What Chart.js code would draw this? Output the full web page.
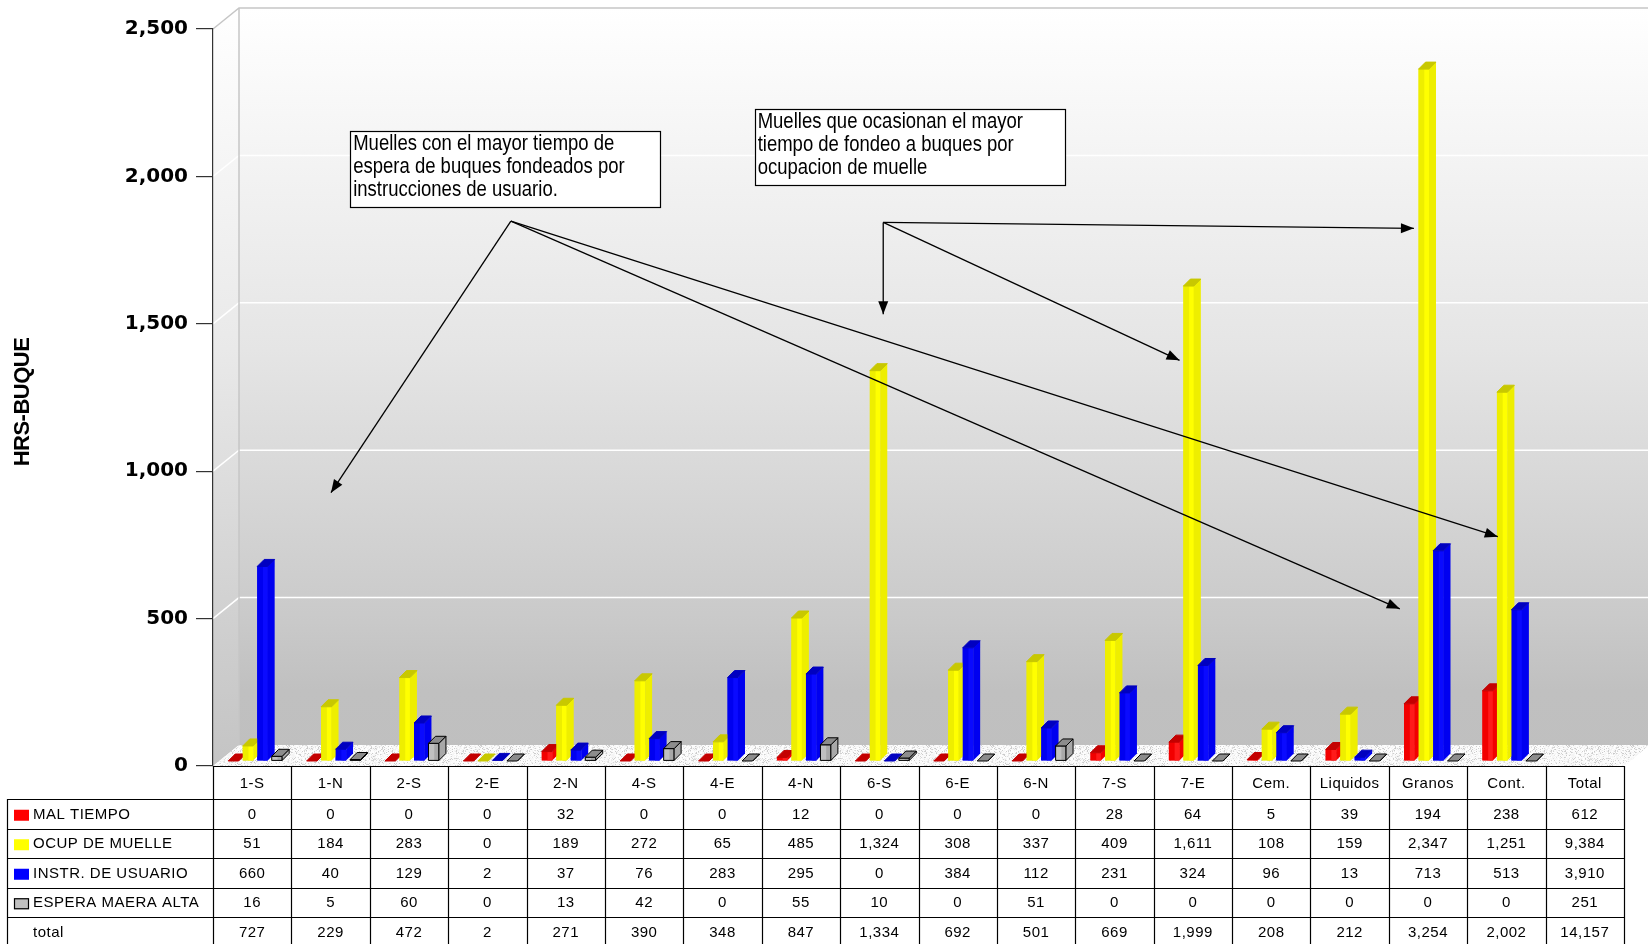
<!DOCTYPE html>
<html><head><meta charset="utf-8">
<script src="https://cdn.jsdelivr.net/npm/chart.js@4.4.1/dist/chart.umd.min.js"></script>
<style>html,body{margin:0;padding:0;background:#fff;}canvas{display:block;}</style>
</head><body>
<canvas id="c" width="1648" height="944"></canvas>
<script>
// ---------- DATA ----------
const categories = ['1-S','1-N','2-S','2-E','2-N','4-S','4-E','4-N','6-S','6-E','6-N','7-S','7-E','Cem.','Liquidos','Granos','Cont.'];
const totalLabel = 'Total';
const malTiempo    = [0,0,0,0,32,0,0,12,0,0,0,28,64,5,39,194,238];
const ocupMuelle   = [51,184,283,0,189,272,65,485,1324,308,337,409,1611,108,159,2347,1251];
const instrUsuario = [660,40,129,2,37,76,283,295,0,384,112,231,324,96,13,713,513];
const esperaMarea  = [16,5,60,0,13,42,0,55,10,0,51,0,0,0,0,0,0];
const categoryTotals = [727,229,472,2,271,390,348,847,1334,692,501,669,1999,208,212,3254,2002];
const seriesTotals = [612,9384,3910,251];
const grandTotal = 14157;
const seriesNames = ['MAL TIEMPO','OCUP DE MUELLE','INSTR. DE USUARIO','ESPERA MAERA ALTA'];
const totalRowName = 'total';
const yTicks = [0,500,1000,1500,2000,2500];
const yTitle = 'HRS-BUQUE';
const note1 = ['Muelles con el mayor tiempo de','espera de buques fondeados por','instrucciones de usuario.'];
const note2 = ['Muelles que ocasionan el mayor','tiempo de fondeo a buques por','ocupacion de muelle'];
// annotation anchors in data space: [category index, value]
const note1Box = [[1.25,2154],[5.20,1895]];
const note2Box = [[6.41,2228],[10.37,1970]];
const arrows1From = [3.30,1848];
const arrows1To = [[1.005,927],[14.64,533],[15.89,778]];
const arrows2From = [8.05,1844];
const arrows2To = [[8.05,1532],[14.82,1824],[11.83,1376]];

// ---------- STYLE ----------
const seriesValues = [malTiempo, ocupMuelle, instrUsuario, esperaMarea];
const frontC = ['#f20000','#eeee00','#0000f0','#c0c0c0'];
const sideC  = ['#ff1a1a','#ffff00','#0a0aff','#a8a8a8'];
const topC   = ['#c40000','#c8c800','#0000c0','#8c8c8c'];
const WDX = 26, WDY = 21;     // wall depth
const BDX = 7, BDY = 7;       // bar depth
const SHX = 3, SHY = -5;      // bar placement inside floor depth
const FONT = '"Liberation Sans", Arial, sans-serif';

function floorPattern(ctx){
  const c = document.createElement('canvas'); c.width = 64; c.height = 32;
  const g = c.getContext('2d'); const img = g.createImageData(64,32);
  for(let y=0;y<32;y++) for(let x=0;x<64;x++){
    let h = (Math.imul(x,374761393) + Math.imul(y,668265263))>>>0;
    h = Math.imul(h ^ (h>>>13), 1274126177)>>>0; h = (h ^ (h>>>16)) & 255;
    const v = h < 55 ? 200 + (h % 40) : 244 + (h % 12);
    const i = (y*64+x)*4; img.data[i]=v; img.data[i+1]=v; img.data[i+2]=v; img.data[i+3]=255;
  }
  g.putImageData(img,0,0);
  return ctx.createPattern(c,'repeat');
}

const backgroundPlugin = {
  id:'bg3d',
  beforeDraw(chart){
    const {ctx, chartArea:a, scales:{y}} = chart;
    const W = chart.width;
    ctx.save();
    ctx.fillStyle = '#fff'; ctx.fillRect(0,0,W,chart.height);
    const grad = ctx.createLinearGradient(0, a.top - WDY, 0, a.bottom);
    grad.addColorStop(0,'#ffffff'); grad.addColorStop(0.45,'#e5e5e5');
    grad.addColorStop(0.8,'#cacaca'); grad.addColorStop(0.9,'#c0c0c0'); grad.addColorStop(1,'#bfbfbf');
    ctx.fillStyle = grad;
    ctx.fillRect(a.left + WDX, a.top - WDY, W - a.left - WDX, a.bottom - a.top);
    const g2 = ctx.createLinearGradient(0, a.top - WDY, 0, a.bottom);
    g2.addColorStop(0,'#ffffff'); g2.addColorStop(0.45,'#e9e9e9');
    g2.addColorStop(0.85,'#cdcdcd'); g2.addColorStop(1,'#c4c4c4');
    ctx.fillStyle = g2;
    ctx.beginPath(); ctx.moveTo(a.left, a.top); ctx.lineTo(a.left+WDX, a.top-WDY);
    ctx.lineTo(a.left+WDX, a.bottom-WDY); ctx.lineTo(a.left, a.bottom); ctx.closePath(); ctx.fill();
    ctx.strokeStyle = '#ffffff'; ctx.lineWidth = 1.5;
    yTicks.forEach(v => {
      if (v === 0 || v === 2500) return;
      const py = y.getPixelForValue(v);
      ctx.beginPath(); ctx.moveTo(a.left, py); ctx.lineTo(a.left+WDX, py-WDY); ctx.lineTo(W, py-WDY); ctx.stroke();
    });
    ctx.strokeStyle = '#c6c6c6'; ctx.lineWidth = 1.5;
    ctx.beginPath(); ctx.moveTo(a.left, a.top); ctx.lineTo(a.left+WDX, a.top-WDY); ctx.lineTo(W, a.top-WDY); ctx.stroke();
    ctx.beginPath(); ctx.moveTo(a.left+WDX, a.top-WDY); ctx.lineTo(a.left+WDX, a.bottom-WDY); ctx.stroke();
    ctx.fillStyle = floorPattern(ctx);
    ctx.beginPath(); ctx.moveTo(a.left, a.bottom); ctx.lineTo(a.left+WDX, a.bottom-WDY);
    ctx.lineTo(a.right+WDX, a.bottom-WDY); ctx.lineTo(a.right, a.bottom); ctx.closePath(); ctx.fill();
    ctx.restore();
  }
};

// Chart.js draws the front faces; here the prisms are re-painted left to right
// (series order) so that each bar's side face is hidden by its right neighbour.
const bar3dPlugin = {
  id:'bar3d',
  beforeDatasetDraw(chart){ chart.ctx.save(); chart.ctx.translate(SHX, SHY); },
  afterDatasetDraw(chart){ chart.ctx.restore(); },
  afterDatasetsDraw(chart){
    const ctx = chart.ctx;
    ctx.save(); ctx.translate(SHX, SHY);
    const metas = seriesValues.map((s, i) => chart.getDatasetMeta(i));
    for (let k = 0; k < categories.length; k++) {
      for (let i = 0; i < metas.length; i++) {
        const el = metas[i].data[k]; const v = seriesValues[i][k];
        if (!el || v === null || v === undefined) continue;
        const L = el.x - el.width/2, R = el.x + el.width/2;
        const T = Math.min(el.y, el.base), B = el.base;
        ctx.lineWidth = 1; ctx.lineJoin = 'round';
        const outline = i === 3;
        // front
        if (B - T > 0.5) {
          ctx.fillStyle = frontC[i]; ctx.fillRect(L, T, R-L, B-T);
          ctx.fillStyle = sideC[i]; ctx.fillRect(L + (R-L)*0.55, T, (R-L)*0.45, B-T);
          if (outline) { ctx.strokeStyle = '#000'; ctx.strokeRect(L, T, R-L, B-T); }
        }
        // side
        ctx.beginPath(); ctx.moveTo(R,T); ctx.lineTo(R+BDX,T-BDY); ctx.lineTo(R+BDX,B-BDY); ctx.lineTo(R,B); ctx.closePath();
        ctx.fillStyle = outline ? sideC[i] : frontC[i]; ctx.fill();
        if (outline) { ctx.strokeStyle = '#000'; ctx.stroke(); }
        // top
        ctx.beginPath(); ctx.moveTo(L,T); ctx.lineTo(L+BDX,T-BDY); ctx.lineTo(R+BDX,T-BDY); ctx.lineTo(R,T); ctx.closePath();
        ctx.fillStyle = topC[i]; ctx.fill();
        ctx.strokeStyle = outline ? '#000' : topC[i]; ctx.stroke();
      }
    }
    ctx.restore();
  }
};

function fmt(n){ return n.toLocaleString('en-US'); }

function arrow(ctx, x0, y0, x1, y1){
  ctx.beginPath(); ctx.moveTo(x0,y0); ctx.lineTo(x1,y1); ctx.stroke();
  const ang = Math.atan2(y1-y0, x1-x0), len = 13, hw = 5;
  ctx.beginPath();
  ctx.moveTo(x1,y1);
  ctx.lineTo(x1 - len*Math.cos(ang) + hw*Math.sin(ang), y1 - len*Math.sin(ang) - hw*Math.cos(ang));
  ctx.lineTo(x1 - len*Math.cos(ang) - hw*Math.sin(ang), y1 - len*Math.sin(ang) + hw*Math.cos(ang));
  ctx.closePath(); ctx.fill();
}

const overlayPlugin = {
  id:'overlay',
  afterDraw(chart){
    const {ctx, chartArea:a, scales:{x, y}} = chart;
    const P = p => [x.getPixelForValue(p[0]), y.getPixelForValue(p[1])];
    ctx.save();
    // y title
    ctx.save();
    ctx.translate(23, 402); ctx.rotate(-Math.PI/2);
    ctx.font = 'bold 22px ' + FONT; ctx.letterSpacing = '-0.5px';
    ctx.fillStyle = '#000'; ctx.textAlign = 'center'; ctx.textBaseline = 'middle';
    ctx.fillText(yTitle, 0, 0);
    ctx.restore();

    // ---- table ----
    const nCols = categories.length + 1;
    const colW = (a.right - a.left) / nCols;
    const top = a.bottom, headB = 799, rowH = 29.5, bottom = chart.height + 2;
    const leftX = 7;
    ctx.strokeStyle = '#000'; ctx.lineWidth = 1.2;
    ctx.beginPath(); ctx.moveTo(a.left, top+0.5); ctx.lineTo(a.right, top+0.5); ctx.stroke();
    for (let r = 0; r < 5; r++) {
      const ly = Math.round(headB + r*rowH) + 0.5;
      ctx.beginPath(); ctx.moveTo(leftX, ly); ctx.lineTo(a.right, ly); ctx.stroke();
    }
    for (let c = 0; c <= nCols; c++) {
      const lx = Math.round(a.left + c*colW) + 0.5;
      ctx.beginPath(); ctx.moveTo(lx, top); ctx.lineTo(lx, bottom); ctx.stroke();
    }
    ctx.beginPath(); ctx.moveTo(leftX+0.5, headB); ctx.lineTo(leftX+0.5, bottom); ctx.stroke();

    ctx.font = '15px ' + FONT; ctx.letterSpacing = '0.5px';
    ctx.fillStyle = '#000'; ctx.textBaseline = 'middle'; ctx.textAlign = 'center';
    const labels = categories.concat([totalLabel]);
    labels.forEach((lab, c) => ctx.fillText(lab, x.getPixelForValue(c), (top + headB)/2 + 1));
    const rows = seriesValues.map((s, i) => s.concat([seriesTotals[i]]));
    rows.push(categoryTotals.concat([grandTotal]));
    const names = seriesNames.concat([totalRowName]);
    const swatch = ['#ff0000','#ffff00','#0000ff','#c0c0c0'];
    rows.forEach((row, r) => {
      const cy = headB + rowH*(r+0.5) + 1;
      ctx.textAlign = 'center'; ctx.fillStyle = '#000';
      row.forEach((v, c) => ctx.fillText(fmt(v), x.getPixelForValue(c), cy));
      ctx.textAlign = 'left';
      ctx.fillText(names[r], 33, cy);
      if (r < 4) {
        ctx.fillStyle = swatch[r];
        ctx.fillRect(14, cy - 5, 15, 11);
        if (r === 3) { ctx.lineWidth = 1.2; ctx.strokeRect(14.5, cy - 4.5, 14, 10); }
      }
    });

    // ---- annotations ----
    ctx.letterSpacing = '0px';
    [[note1Box, note1], [note2Box, note2]].forEach(([box, lines]) => {
      const [x0, y0] = P(box[0]), [x1, y1] = P(box[1]);
      ctx.fillStyle = '#fff'; ctx.fillRect(x0, y0, x1-x0, y1-y0);
      ctx.strokeStyle = '#000'; ctx.lineWidth = 1.2; ctx.strokeRect(Math.round(x0)+0.5, Math.round(y0)+0.5, Math.round(x1-x0), Math.round(y1-y0));
      ctx.fillStyle = '#000'; ctx.font = '18.5px ' + FONT; ctx.textAlign = 'left'; ctx.textBaseline = 'middle';
      lines.forEach((t, i) => {
        ctx.save(); ctx.translate(x0 + 3, y0 + 13 + i*23); ctx.scale(1, 1.15);
        ctx.fillText(t, 0, 0); ctx.restore();
      });
    });
    ctx.strokeStyle = '#000'; ctx.fillStyle = '#000'; ctx.lineWidth = 1.3;
    [[arrows1From, arrows1To], [arrows2From, arrows2To]].forEach(([from, tos]) => {
      const [fx, fy] = P(from);
      tos.forEach(t => { const [tx, ty] = P(t); arrow(ctx, fx, fy, tx, ty); });
    });
    ctx.restore();
  }
};

new Chart(document.getElementById('c').getContext('2d'), {
  type: 'bar',
  data: {
    labels: categories.concat([totalLabel]),
    datasets: seriesValues.map((d, i) => ({
      label: seriesNames[i], data: d,
      backgroundColor: frontC[i],
      borderColor: i === 3 ? '#000' : frontC[i],
      borderWidth: i === 3 ? 1 : 0,
      categoryPercentage: 0.74, barPercentage: 0.72,
      clip: false
    }))
  },
  options: {
    responsive: false, animation: false, devicePixelRatio: 1,
    layout: { padding: { top: 29, right: 24, left: 0, bottom: 0 } },
    plugins: { legend: { display: false }, tooltip: { enabled: false } },
    scales: {
      x: { grid: { display: false }, border: { display: false }, ticks: { display: false },
           afterFit(s) { s.height = 178; } },
      y: { min: 0, max: 2500,
           afterBuildTicks(s) { s.ticks = yTicks.map(v => ({ value: v })); },
           grid: { drawOnChartArea: false, drawTicks: true, tickLength: 17, color: '#333', lineWidth: 1.2 },
           border: { display: true, color: '#333', width: 1.2 },
           ticks: { padding: 8, color: '#000', font: { family: 'DejaVu Sans', weight: 'bold', size: 20 },
                    callback: v => fmt(v) },
           afterFit(s) { s.width = 213; } }
    }
  },
  plugins: [backgroundPlugin, bar3dPlugin, overlayPlugin]
});
</script>
</body></html>
